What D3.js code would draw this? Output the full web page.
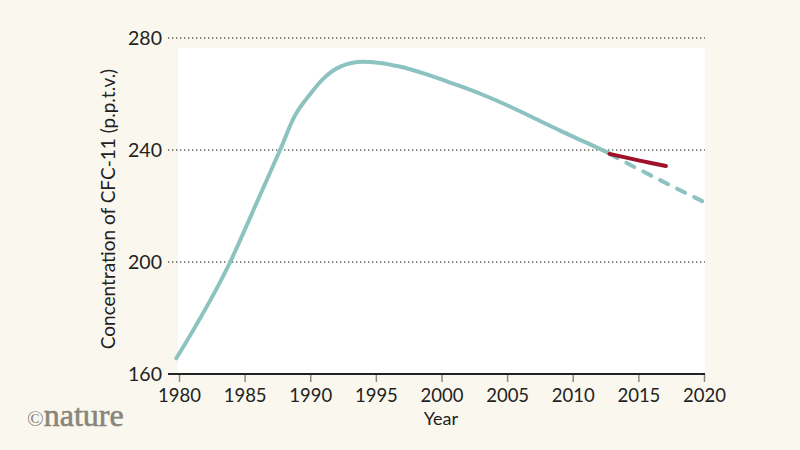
<!DOCTYPE html>
<html>
<head>
<meta charset="utf-8">
<script src="https://cdn.jsdelivr.net/npm/d3@7"></script>
<style>
  body { margin: 0; background: #faf7ee; }
  svg { display: block; }
</style>
</head>
<body>
<svg id="chart"></svg>
<script>
// CFC-11 concentration
var observedYears  = [1979.8, 1983.9, 1985.9, 1987.7, 1988.8, 1990, 1991, 1992.3, 1994, 1995.3, 1996.8, 1999, 2001, 2003, 2005, 2007, 2009, 2011, 2012.8];
var observedValues = [165.6, 200, 221, 240, 252, 260, 265.5, 269.8, 271.5, 271.1, 269.8, 266.8, 263.5, 260, 256, 251.5, 247, 242.7, 238.8];

var recentYears  = [2012.8, 2015, 2017.1];
var recentValues = [238.6, 236.3, 234.3];

var expectedYears  = [2012.8, 2016.5, 2020.1];
var expectedValues = [238.6, 229.6, 221.2];

var xTicks = [1980, 1985, 1990, 1995, 2000, 2005, 2010, 2015, 2020];
var yTicks = [160, 200, 240, 280];

var WIDTH = 800,
    HEIGHT = 450;
var FONT = "Lato, 'Open Sans', sans-serif";

var x = d3.scaleLinear().domain([1980, 2020]).range([179, 704]);
var y = d3.scaleLinear().domain([160, 280]).range([374, 38]);

var svg = d3.select("#chart")
    .attr("width", WIDTH)
    .attr("height", HEIGHT);

svg.append("rect")
    .attr("width", WIDTH)
    .attr("height", HEIGHT)
    .attr("fill", "#faf7ee");

// white plot panel
svg.append("rect")
    .attr("x", 178)
    .attr("y", 48)
    .attr("width", 705 - 178)
    .attr("height", 374 - 48)
    .attr("fill", "#ffffff");

// dotted gridlines
svg.append("g")
  .selectAll("line")
    .data(yTicks.filter(function(d) { return d > 160; }))
  .enter().append("line")
    .attr("x1", 168)
    .attr("x2", 705)
    .attr("y1", function(d) { return y(d); })
    .attr("y2", function(d) { return y(d); })
    .attr("stroke", "#666")
    .attr("stroke-width", 1.4)
    .attr("stroke-dasharray", "1.4,2.6");

// y tick labels
svg.append("g")
  .selectAll("text")
    .data(yTicks)
  .enter().append("text")
    .attr("x", 162)
    .attr("y", function(d) { return y(d); })
    .attr("dy", "0.36em")
    .attr("text-anchor", "end")
    .attr("font-family", FONT)
    .attr("font-size", 19.5)
    .attr("fill", "#222")
    .text(function(d) { return d; });

// x axis
var xAxis = d3.axisBottom(x)
    .tickValues(xTicks)
    .tickSize(8)
    .tickPadding(7)
    .tickFormat(d3.format("d"));

var gx = svg.append("g")
    .attr("transform", "translate(0," + y(160) + ")")
    .call(xAxis);

gx.select(".domain").remove();
gx.selectAll(".tick line")
    .attr("stroke", "#888")
    .attr("stroke-width", 1.5);
gx.selectAll(".tick text")
    .attr("font-family", FONT)
    .attr("font-size", 18.5)
    .attr("fill", "#222");

svg.append("line")
    .attr("x1", 168)
    .attr("x2", 705)
    .attr("y1", y(160))
    .attr("y2", y(160))
    .attr("stroke", "#222")
    .attr("stroke-width", 2.2);

// lines
var line = d3.line()
    .x(function(d) { return x(d[0]); })
    .y(function(d) { return y(d[1]); })
    .curve(d3.curveMonotoneX);

svg.append("path")
    .datum(d3.zip(expectedYears, expectedValues))
    .attr("d", line)
    .attr("fill", "none")
    .attr("stroke", "#8cc3c1")
    .attr("stroke-width", 4)
    .attr("stroke-linecap", "round")
    .attr("stroke-dasharray", "9,10");

svg.append("path")
    .datum(d3.zip(observedYears, observedValues))
    .attr("d", line)
    .attr("fill", "none")
    .attr("stroke", "#8cc3c1")
    .attr("stroke-width", 4)
    .attr("stroke-linecap", "round");

svg.append("path")
    .datum(d3.zip(recentYears, recentValues))
    .attr("d", line)
    .attr("fill", "none")
    .attr("stroke", "#a0122a")
    .attr("stroke-width", 4)
    .attr("stroke-linecap", "round");

// axis titles
svg.append("text")
    .attr("x", 441)
    .attr("y", 425)
    .attr("text-anchor", "middle")
    .attr("font-family", FONT)
    .attr("font-size", 18)
    .attr("fill", "#222")
    .text("Year");

svg.append("text")
    .attr("transform", "translate(115,209)rotate(-90)")
    .attr("text-anchor", "middle")
    .attr("font-family", FONT)
    .attr("font-size", 19)
    .attr("fill", "#222")
    .text("Concentration of CFC-11 (p.p.t.v.)");

// logo
var logo = svg.append("text")
    .attr("x", 27)
    .attr("y", 426)
    .attr("font-family", "'Liberation Serif', 'DejaVu Serif', serif")
    .attr("fill", "#8a857a")
    .attr("stroke", "#8a857a")
    .attr("stroke-width", 0.6);
logo.append("tspan")
    .attr("font-size", 22)
    .attr("stroke-width", 0)
    .text("©");
logo.append("tspan")
    .attr("font-size", 32)
    .text("nature");
</script>
</body>
</html>
